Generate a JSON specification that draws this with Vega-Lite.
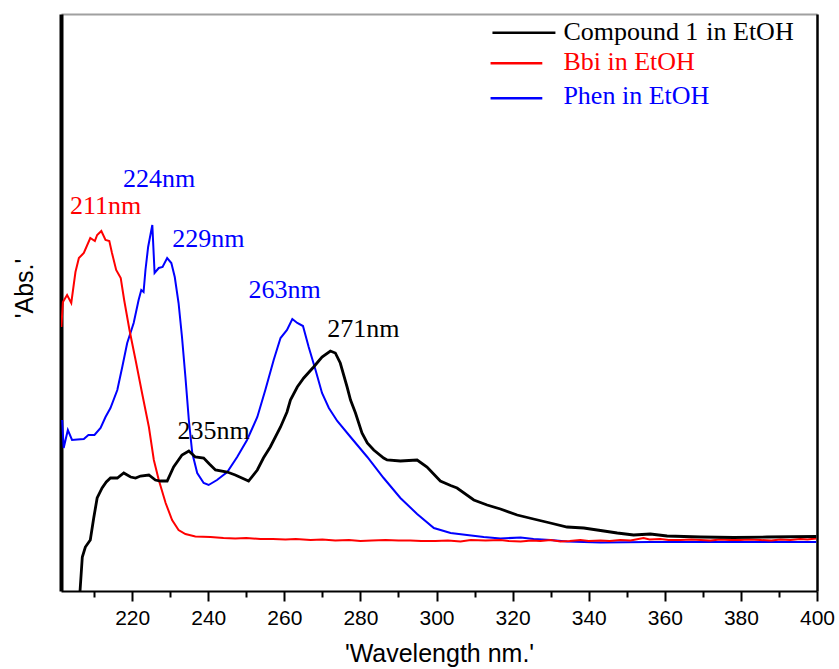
{
  "$schema": "https://vega.github.io/schema/vega-lite/v6.json",
  "width": 756,
  "height": 577,
  "autosize": {"type": "none"},
  "padding": {"left": 61, "top": 14, "right": 22, "bottom": 78},
  "background": "white",
  "config": {"view": {"stroke": null}},
  "datasets": {
    "bbi": [
      {"nm":201.4,"a":2.64},{"nm":201.8,"a":2.89},{"nm":202.9,"a":2.96},{"nm":204.0,"a":2.88},{"nm":205.1,"a":3.19},{"nm":206.0,"a":3.33},{"nm":207.3,"a":3.38},{"nm":209.0,"a":3.53},{"nm":210.2,"a":3.50},{"nm":210.8,"a":3.56},{"nm":211.9,"a":3.60},{"nm":213.0,"a":3.51},{"nm":214.0,"a":3.50},{"nm":214.7,"a":3.38},{"nm":215.8,"a":3.21},{"nm":217.0,"a":3.13},{"nm":217.9,"a":2.91},{"nm":219.3,"a":2.61},{"nm":220.9,"a":2.31},{"nm":222.6,"a":1.98},{"nm":224.4,"a":1.64},{"nm":225.7,"a":1.31},{"nm":227.0,"a":1.11},{"nm":228.8,"a":0.88},{"nm":230.5,"a":0.71},{"nm":232.2,"a":0.61},{"nm":234.0,"a":0.57},{"nm":236.6,"a":0.545},{"nm":240.6,"a":0.54},{"nm":244,"a":0.53},{"nm":247.1,"a":0.525},{"nm":250,"a":0.53},{"nm":253.7,"a":0.52},{"nm":257,"a":0.52},{"nm":260.3,"a":0.515},{"nm":263,"a":0.52},{"nm":266.9,"a":0.51},{"nm":270,"a":0.515},{"nm":273.4,"a":0.505},{"nm":277,"a":0.51},{"nm":280.0,"a":0.50},{"nm":283,"a":0.505},{"nm":286.6,"a":0.51},{"nm":290,"a":0.505},{"nm":293.1,"a":0.505},{"nm":296,"a":0.5},{"nm":299.7,"a":0.50},{"nm":303,"a":0.505},{"nm":306.3,"a":0.495},{"nm":309,"a":0.51},{"nm":312.9,"a":0.505},{"nm":316.8,"a":0.51},{"nm":319,"a":0.5},{"nm":322.1,"a":0.495},{"nm":325,"a":0.505},{"nm":327.3,"a":0.50},{"nm":330,"a":0.51},{"nm":332.6,"a":0.495},{"nm":335,"a":0.5},{"nm":337.8,"a":0.51},{"nm":340,"a":0.5},{"nm":343.1,"a":0.505},{"nm":345.5,"a":0.5},{"nm":348.3,"a":0.51},{"nm":351,"a":0.505},{"nm":354.4,"a":0.53},{"nm":356,"a":0.515},{"nm":358.8,"a":0.52},{"nm":361,"a":0.51},{"nm":364.1,"a":0.51},{"nm":367,"a":0.515},{"nm":369.4,"a":0.51},{"nm":372,"a":0.505},{"nm":374.6,"a":0.515},{"nm":377,"a":0.51},{"nm":379.9,"a":0.51},{"nm":382,"a":0.515},{"nm":385.1,"a":0.51},{"nm":388,"a":0.505},{"nm":390.4,"a":0.515},{"nm":393,"a":0.51},{"nm":395.6,"a":0.52},{"nm":397.5,"a":0.515},{"nm":399.8,"a":0.525}
    ],
    "phen": [
      {"nm":201.6,"a":1.71},{"nm":202.0,"a":1.43},{"nm":203.1,"a":1.61},{"nm":204.2,"a":1.51},{"nm":205.6,"a":1.515},{"nm":207.3,"a":1.52},{"nm":208.5,"a":1.56},{"nm":210.1,"a":1.56},{"nm":211.7,"a":1.63},{"nm":213.0,"a":1.74},{"nm":214.3,"a":1.83},{"nm":216.1,"a":2.01},{"nm":217.4,"a":2.24},{"nm":218.7,"a":2.48},{"nm":220.4,"a":2.68},{"nm":221.7,"a":2.91},{"nm":222.4,"a":3.01},{"nm":223.0,"a":2.99},{"nm":223.5,"a":3.21},{"nm":224.2,"a":3.44},{"nm":225.3,"a":3.66},{"nm":225.9,"a":3.18},{"nm":227.0,"a":3.23},{"nm":228.0,"a":3.24},{"nm":229.2,"a":3.33},{"nm":230.3,"a":3.28},{"nm":231.2,"a":3.14},{"nm":232.2,"a":2.88},{"nm":233.1,"a":2.54},{"nm":234.0,"a":2.14},{"nm":234.9,"a":1.71},{"nm":235.8,"a":1.38},{"nm":237.1,"a":1.18},{"nm":238.8,"a":1.08},{"nm":240.1,"a":1.06},{"nm":242.3,"a":1.11},{"nm":245.0,"a":1.19},{"nm":247.6,"a":1.34},{"nm":250.2,"a":1.51},{"nm":252.9,"a":1.74},{"nm":255.0,"a":2.01},{"nm":257.2,"a":2.31},{"nm":259.0,"a":2.53},{"nm":260.7,"a":2.61},{"nm":262.1,"a":2.72},{"nm":263.4,"a":2.68},{"nm":264.9,"a":2.65},{"nm":266.4,"a":2.44},{"nm":268.2,"a":2.21},{"nm":269.9,"a":1.98},{"nm":271.7,"a":1.83},{"nm":273.9,"a":1.70},{"nm":277.4,"a":1.54},{"nm":281.8,"a":1.34},{"nm":286.1,"a":1.13},{"nm":290.5,"a":0.93},{"nm":294.9,"a":0.77},{"nm":299.3,"a":0.63},{"nm":303.7,"a":0.58},{"nm":308.0,"a":0.56},{"nm":312.4,"a":0.54},{"nm":316.8,"a":0.525},{"nm":322.1,"a":0.535},{"nm":325.5,"a":0.52},{"nm":329.9,"a":0.51},{"nm":334.3,"a":0.495},{"nm":338.7,"a":0.49},{"nm":343.1,"a":0.485},{"nm":356.2,"a":0.49},{"nm":369.4,"a":0.49},{"nm":382.5,"a":0.49},{"nm":399.8,"a":0.49}
    ],
    "cmpd": [
      {"nm":206.3,"a":0.0},{"nm":206.9,"a":0.34},{"nm":207.7,"a":0.44},{"nm":209.0,"a":0.51},{"nm":209.9,"a":0.73},{"nm":210.8,"a":0.93},{"nm":212.1,"a":1.03},{"nm":213.2,"a":1.09},{"nm":214.3,"a":1.13},{"nm":216.1,"a":1.13},{"nm":217.8,"a":1.18},{"nm":219.6,"a":1.14},{"nm":220.9,"a":1.13},{"nm":222.2,"a":1.15},{"nm":224.4,"a":1.16},{"nm":226.1,"a":1.11},{"nm":227.4,"a":1.10},{"nm":229.2,"a":1.10},{"nm":230.9,"a":1.24},{"nm":233.1,"a":1.36},{"nm":234.9,"a":1.40},{"nm":236.6,"a":1.34},{"nm":238.8,"a":1.33},{"nm":240.3,"a":1.27},{"nm":241.9,"a":1.21},{"nm":245.0,"a":1.19},{"nm":247.1,"a":1.16},{"nm":250.6,"a":1.10},{"nm":252.9,"a":1.21},{"nm":254.5,"a":1.33},{"nm":256.3,"a":1.44},{"nm":259.0,"a":1.64},{"nm":260.7,"a":1.79},{"nm":261.6,"a":1.91},{"nm":263.4,"a":2.04},{"nm":265.1,"a":2.13},{"nm":267.7,"a":2.24},{"nm":269.9,"a":2.34},{"nm":272.1,"a":2.40},{"nm":273.4,"a":2.38},{"nm":274.7,"a":2.28},{"nm":276.5,"a":2.04},{"nm":277.4,"a":1.91},{"nm":278.7,"a":1.78},{"nm":280.4,"a":1.58},{"nm":281.8,"a":1.48},{"nm":283.5,"a":1.41},{"nm":286.1,"a":1.33},{"nm":287.0,"a":1.31},{"nm":290.5,"a":1.30},{"nm":294.9,"a":1.31},{"nm":297.5,"a":1.24},{"nm":301.0,"a":1.10},{"nm":303.7,"a":1.055},{"nm":305.4,"a":1.03},{"nm":309.8,"a":0.91},{"nm":313.3,"a":0.86},{"nm":316.8,"a":0.82},{"nm":321.2,"a":0.76},{"nm":325.5,"a":0.72},{"nm":329.9,"a":0.68},{"nm":334.3,"a":0.64},{"nm":338.7,"a":0.63},{"nm":343.1,"a":0.605},{"nm":347.5,"a":0.58},{"nm":351.8,"a":0.56},{"nm":356.2,"a":0.57},{"nm":360.6,"a":0.55},{"nm":369.4,"a":0.54},{"nm":378.1,"a":0.535},{"nm":386.9,"a":0.54},{"nm":399.8,"a":0.545}
    ],
    "peaks": [
      {"s":"bbi","nm":213.0,"a":3.77,"t":"211nm"},
      {"s":"phen","nm":227.1,"a":4.04,"t":"224nm"},
      {"s":"phen","nm":240.0,"a":3.44,"t":"229nm"},
      {"s":"phen","nm":260.1,"a":2.93,"t":"263nm"},
      {"s":"cmpd","nm":280.8,"a":2.54,"t":"271nm"},
      {"s":"cmpd","nm":241.4,"a":1.52,"t":"235nm"}
    ],
    "legLines": [
      {"s":"cmpd","x1":314.7,"x2":331.25,"a":5.583},
      {"s":"bbi","x1":314.2,"x2":327.8,"a":5.277},
      {"s":"phen","x1":314.2,"x2":327.8,"a":4.927}
    ],
    "legText": [
      {"s":"cmpd","nm":333.35,"a":5.51,"t":"Compound","w":"normal"},
      {"s":"cmpd","nm":365.4,"a":5.51,"t":"1","w":"bold"},
      {"s":"cmpd","nm":370.9,"a":5.51,"t":"in EtOH","w":"normal"},
      {"s":"bbi","nm":333.35,"a":5.21,"t":"Bbi in EtOH","w":"normal"},
      {"s":"phen","nm":333.35,"a":4.87,"t":"Phen in EtOH","w":"normal"}
    ]
  },
  "layer": [
    {
      "data": {"name": "phen"},
      "mark": {"type": "line", "color": "#0000ff", "strokeWidth": 2, "clip": true},
      "encoding": {
        "x": {"field": "nm", "type": "quantitative",
          "scale": {"domain": [201.3, 400], "nice": false, "zero": false},
          "axis": {
            "orient": "bottom",
            "values": [210,220,230,240,250,260,270,280,290,300,310,320,330,340,350,360,370,380,390,400],
            "labelExpr": "datum.value % 20 === 0 ? datum.label : ''",
            "tickSize": {"condition": {"test": "datum.value % 20 === 0", "value": 10}, "value": 6},
            "tickColor": "#000000", "tickWidth": 2,
            "domainColor": "#000000", "domainWidth": 2,
            "labelFont": "Liberation Sans", "labelFontSize": 21, "labelColor": "#000000", "labelPadding": 6,
            "labelOverlap": false, "labelFlush": false,
            "grid": false,
            "title": "'Wavelength nm.'", "titleFont": "Liberation Sans", "titleFontSize": 25,
            "titleFontWeight": "normal", "titleColor": "#000000", "titlePadding": 13
          }
        },
        "y": {"field": "a", "type": "quantitative",
          "scale": {"domain": [0, 5.77], "nice": false, "zero": false},
          "axis": {
            "orient": "left", "ticks": false, "labels": false, "grid": false,
            "domainColor": "#000000", "domainWidth": 4,
            "title": "'Abs.'", "titleFont": "Liberation Sans", "titleFontSize": 25,
            "titleFontWeight": "normal", "titleColor": "#000000", "titlePadding": 24,
            "titleY": 274
          }
        }
      }
    },
    {
      "data": {"name": "bbi"},
      "mark": {"type": "line", "color": "#ff0000", "strokeWidth": 2, "clip": true},
      "encoding": {
        "x": {"field": "nm", "type": "quantitative", "axis": null},
        "y": {"field": "a", "type": "quantitative", "axis": null}
      }
    },
    {
      "data": {"name": "cmpd"},
      "mark": {"type": "line", "color": "#000000", "strokeWidth": 2.8, "clip": true},
      "encoding": {
        "x": {"field": "nm", "type": "quantitative", "axis": null},
        "y": {"field": "a", "type": "quantitative", "axis": null}
      }
    },
    {
      "data": {"name": "peaks"},
      "mark": {"type": "text", "font": "Liberation Serif", "fontSize": 26, "align": "center", "baseline": "alphabetic"},
      "encoding": {
        "x": {"field": "nm", "type": "quantitative", "axis": null},
        "y": {"field": "a", "type": "quantitative", "axis": null},
        "text": {"field": "t"},
        "color": {"field": "s", "type": "nominal", "legend": null,
          "scale": {"domain": ["cmpd", "bbi", "phen"], "range": ["#000000", "#ff0000", "#0000ff"]}}
      }
    },
    {
      "data": {"name": "legLines"},
      "mark": {"type": "rule", "strokeWidth": 2.5},
      "encoding": {
        "x": {"field": "x1", "type": "quantitative",
          "axis": {"orient": "top", "ticks": false, "labels": false, "title": null, "grid": false,
            "domainColor": "#a0a0a0", "domainWidth": 2}},
        "x2": {"field": "x2"},
        "y": {"field": "a", "type": "quantitative",
          "axis": {"orient": "right", "ticks": false, "labels": false, "title": null, "grid": false,
            "domainColor": "#000000", "domainWidth": 2.5}},
        "color": {"field": "s", "type": "nominal", "legend": null}
      }
    },
    {
      "data": {"name": "legText"},
      "mark": {"type": "text", "font": "Liberation Serif", "fontSize": 26, "align": "left", "baseline": "alphabetic"},
      "encoding": {
        "x": {"field": "nm", "type": "quantitative", "axis": null},
        "y": {"field": "a", "type": "quantitative", "axis": null},
        "text": {"field": "t"},
        "fontWeight": {"field": "w", "type": "nominal", "scale": null, "legend": null},
        "color": {"field": "s", "type": "nominal", "legend": null}
      }
    }
  ]
}
